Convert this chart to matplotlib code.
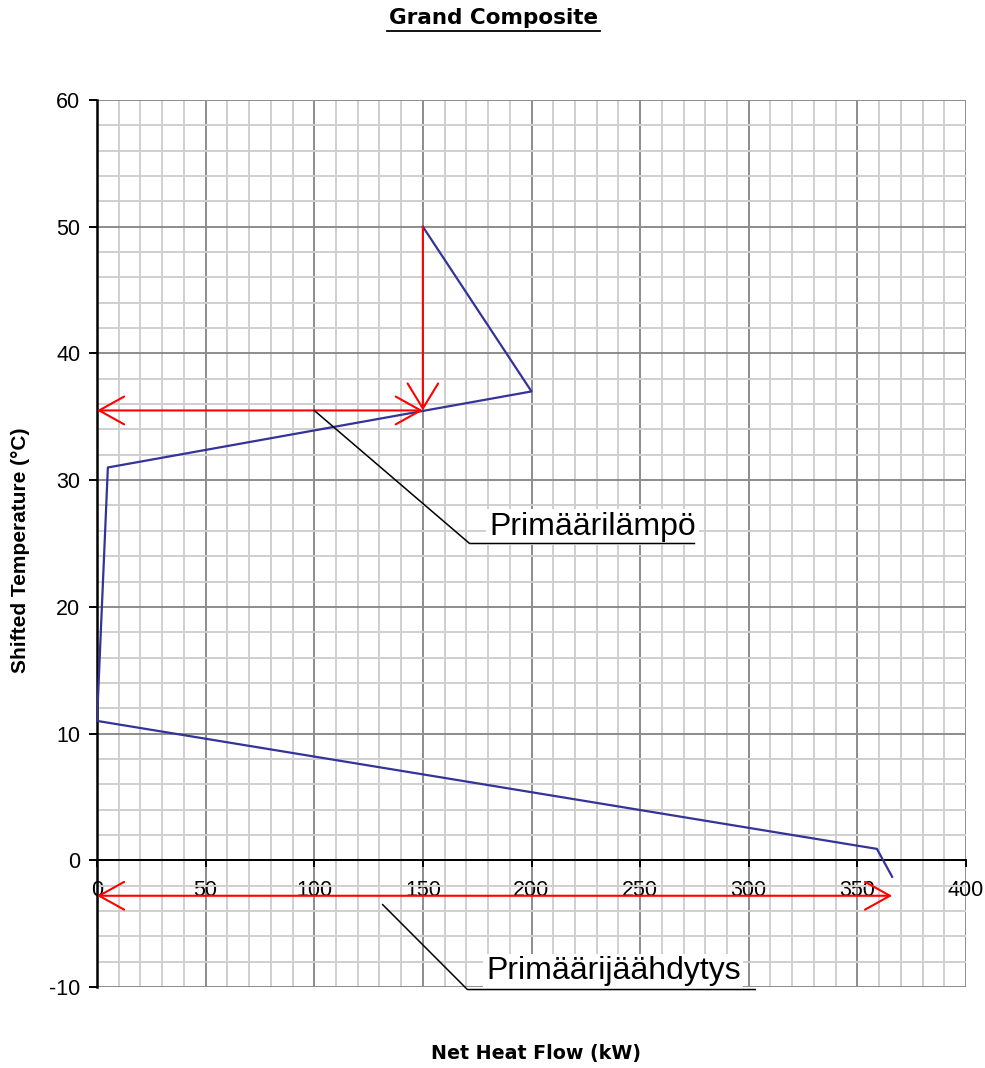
import matplotlib
matplotlib.use('Agg')
import matplotlib.pyplot as plt
from matplotlib.ticker import MultipleLocator

# grand composite curve (net heat flow kW, shifted temperature C)
curve_x = [150, 200, 5, 0, 359, 366]
curve_y = [50, 37, 31, 11, 0.9, -1.3]

# primary heating / cooling arrows
heat_q = 150
heat_t_top = 50
heat_t = 35.5
cool_q = 366
cool_t = -2.8

# labels and their leader lines (x, y)
heat_label = 'Primäärilämpö'
heat_leader_x = [100, 171.5, 275]
heat_leader_y = [35.5, 25.0, 25.0]
cool_label = 'Primäärijäähdytys'
cool_leader_x = [131.5, 170.5, 303]
cool_leader_y = [-3.5, -10.2, -10.2]

x_ticks = [0, 50, 100, 150, 200, 250, 300, 350, 400]
y_ticks = [-10, 0, 10, 20, 30, 40, 50, 60]

plt.rcParams['font.family'] = ['Liberation Sans', 'DejaVu Sans']
plt.rcParams['axes.unicode_minus'] = False

fig = plt.figure(figsize=(9.85, 10.68), dpi=100)
ax = fig.add_axes([97/985, 1 - 987/1068, 869/985, 887/1068])

ax.set_xlim(0, 400)
ax.set_ylim(-10, 60)
ax.set_xticks(x_ticks)
ax.set_yticks(y_ticks)
ax.xaxis.set_minor_locator(MultipleLocator(10))
ax.yaxis.set_minor_locator(MultipleLocator(2))
ax.grid(which='major', color='#8c8c8c', lw=1.4, zorder=0)
ax.grid(which='minor', color='#cfcfcf', lw=1.4, zorder=0)
ax.set_axisbelow(True)

for s in ['top', 'right']:
    ax.spines[s].set_visible(False)
ax.spines['bottom'].set_position(('data', 0))
ax.spines['bottom'].set_color('black')
ax.spines['left'].set_color('black')
ax.spines['bottom'].set_linewidth(1.4)
ax.spines['left'].set_linewidth(1.8)
ax.tick_params(which='minor', length=0)
ax.tick_params(axis='x', which='major', direction='out', length=5, width=1.4,
               pad=9, labelsize=15.5)
ax.tick_params(axis='y', which='major', direction='out', length=6, width=1.4,
               pad=6, labelsize=15.5)

ax.plot(curve_x, curve_y, color='#333399', lw=1.6, zorder=4)

arrow_style = dict(color='red', lw=1.5, shrinkA=0, shrinkB=0, mutation_scale=20)
ax.annotate('', xy=(heat_q, heat_t), xytext=(heat_q, heat_t_top),
            arrowprops=dict(arrowstyle='->,head_length=0.9,head_width=0.55', **arrow_style),
            zorder=5)
ax.annotate('', xy=(0, heat_t), xytext=(heat_q, heat_t),
            arrowprops=dict(arrowstyle='<->,head_length=0.9,head_width=0.5', **arrow_style),
            zorder=5)
ax.annotate('', xy=(0, cool_t), xytext=(cool_q, cool_t),
            arrowprops=dict(arrowstyle='<->,head_length=0.9,head_width=0.5', **arrow_style),
            zorder=5, annotation_clip=False)

ax.text(180.5, 25.7, heat_label, fontsize=23, va='baseline', ha='left', zorder=6,
        bbox=dict(facecolor='white', edgecolor='none', pad=2))
ax.plot(heat_leader_x, heat_leader_y, color='black', lw=1.1, zorder=7)
ax.text(179, -9.4, cool_label, fontsize=23, va='baseline', ha='left', zorder=6,
        bbox=dict(facecolor='white', edgecolor='none', pad=2), clip_on=False)
ax.plot(cool_leader_x, cool_leader_y, color='black', lw=1.1, zorder=7, clip_on=False)

fig.text(494/985, 1 - 18/1068, 'Grand Composite', fontsize=15.5, fontweight='bold',
         family='DejaVu Sans', ha='center', va='center')
fig.add_artist(plt.Line2D([387/985, 600/985], [1 - 31/1068, 1 - 31/1068],
                          color='black', lw=1.3))
fig.text(536/985, 1 - 1053/1068, 'Net Heat Flow (kW)', fontsize=13.7, fontweight='bold',
         family='DejaVu Sans', ha='center', va='center')
fig.text(21/985, 1 - 550/1068, 'Shifted Temperature (°C)', fontsize=15, fontweight='bold',
         ha='center', va='center', rotation=90)

fig.savefig('out.png', dpi=100)
